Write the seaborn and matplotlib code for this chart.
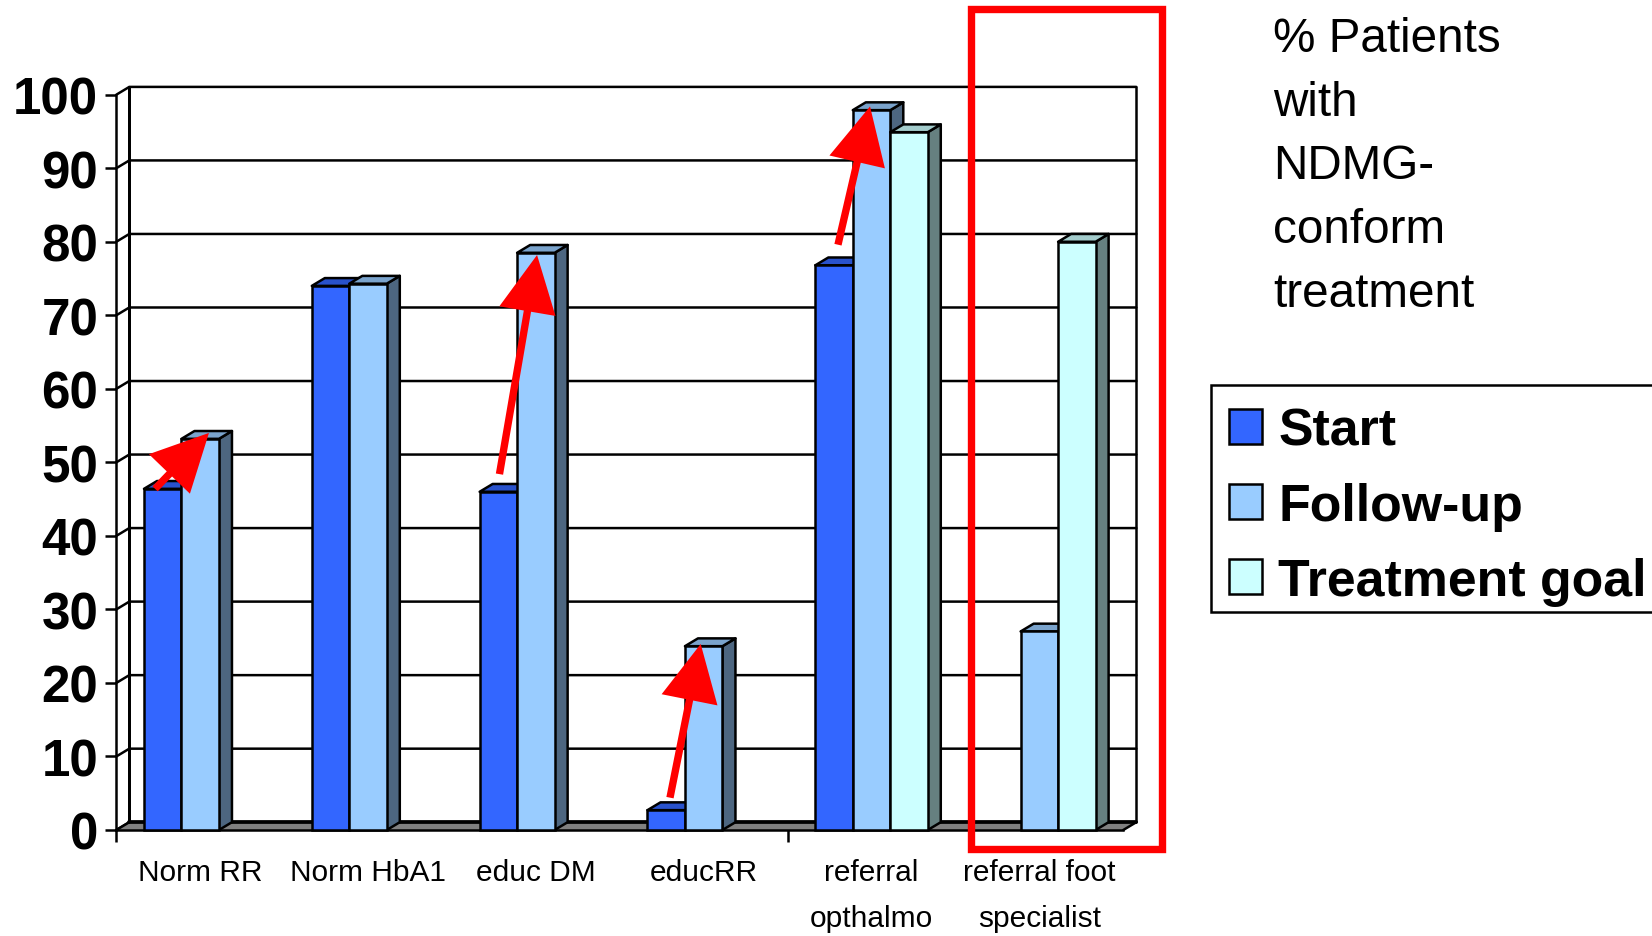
import numpy as np
import pandas as pd
import matplotlib
matplotlib.use("Agg")
import matplotlib.pyplot as plt
from matplotlib.patches import Polygon, Rectangle
from matplotlib.colors import to_rgb
import seaborn as sns

categories = ["Norm RR", "Norm HbA1", "educ DM", "educRR",
              "referral\nopthalmo", "referral foot\nspecialist"]
series = ["Start", "Follow-up", "Treatment goal"]
start = [46.4, 74.0, 46.0, 2.7, 76.8, np.nan]
follow_up = [53.2, 74.3, 78.5, 25.0, 97.9, 27.0]
goal = [np.nan, np.nan, np.nan, np.nan, 94.9, 80.0]
colors = ["#3366FF", "#99CCFF", "#CCFFFF"]
y_ticks = list(range(0, 101, 10))
note = "% Patients\nwith\nNDMG-\nconform\ntreatment"

# red trend arrows: (x_tail, y_tail, x_tip, y_tip) in chart units
arrow_tail_x = [-0.269, 1.783, 2.799, 3.80]
arrow_tail_y = [46.4, 48.4, 4.4, 79.6]
arrow_tip_x = [0.052, 2.007, 2.982, 3.991]
arrow_tip_y = [54.0, 78.2, 25.3, 98.4]

W, H = 1652, 937
sns.set_theme(style="white")
plt.rcParams["font.family"] = ["Liberation Sans", "DejaVu Sans"]

df = pd.DataFrame({
    "category": categories * 3,
    "series": sum([[s] * len(categories) for s in series], []),
    "value": start + follow_up + goal,
})

fig = plt.figure(figsize=(W / 100, H / 100), dpi=100, facecolor="white")
L, R, T, B = 116.3, 1123.3, 95.7, 831.0
ax = fig.add_axes([L / W, 1 - B / H, (R - L) / W, (B - T) / H])
ax.patch.set_alpha(0)

LW = 1.8
sns.barplot(data=df, x="category", y="value", hue="series",
            order=categories, hue_order=series, palette=colors,
            saturation=1, width=0.67, edgecolor="black", linewidth=LW,
            ax=ax)

x0, x1 = -0.5, 5.5
ax.set_xlim(x0, x1)
ax.set_ylim(0, 100)
dx = 13 / ((R - L) / 6)
dy = 7.8 / ((B - T) / 100)

# back wall, gridlines, floor
for v in y_ticks:
    ax.plot([x0, x0 + dx, x1 + dx], [v, v + dy, v + dy], color="black",
            lw=LW, clip_on=False, zorder=1, solid_joinstyle="miter")
ax.plot([x0 + dx, x0 + dx], [dy, 100 + dy], color="black", lw=LW * 1.2,
        clip_on=False, zorder=1)
ax.plot([x1 + dx, x1 + dx], [dy, 100 + dy], color="black", lw=LW,
        clip_on=False, zorder=1)
ax.add_patch(Polygon([(x0, 0), (x1, 0), (x1 + dx, dy), (x0 + dx, dy)],
                     closed=True, facecolor="#808080", edgecolor="none",
                     clip_on=False, zorder=1.5))
ax.plot([x0 + dx, x1 + dx], [dy, dy], color="black", lw=LW * 1.5,
        clip_on=False, zorder=1.6)
ax.plot([x0, x0 + dx], [0, dy], color="black", lw=LW, clip_on=False, zorder=1.6)
ax.plot([x1, x1 + dx], [0, dy], color="black", lw=LW, clip_on=False, zorder=1.6)


def shade(c, f):
    return tuple(np.array(to_rgb(c)) * f)


# bars with their depth faces, painted left to right
rgb_to_idx = {to_rgb(c): i for i, c in enumerate(colors)}
for p in list(ax.patches):
    if not isinstance(p, Rectangle):
        continue
    h = p.get_height()
    if not np.isfinite(h) or h <= 0:
        continue
    fc = p.get_facecolor()[:3]
    idx = rgb_to_idx[tuple(fc)]
    xa, xb = p.get_x(), p.get_x() + p.get_width()
    z = 3 + idx
    ax.add_patch(Polygon([(xb, 0), (xb + dx, dy), (xb + dx, h + dy), (xb, h)],
                         closed=True, facecolor=shade(fc, 0.5), edgecolor="black",
                         lw=LW, clip_on=False, zorder=z, joinstyle="round"))
    ax.add_patch(Polygon([(xa, h), (xa + dx, h + dy), (xb + dx, h + dy), (xb, h)],
                         closed=True, facecolor=shade(fc, 0.8), edgecolor="black",
                         lw=LW, clip_on=False, zorder=z, joinstyle="round"))
    p.set_zorder(z + 0.5)
    p.set_clip_on(False)

# axes furniture
for s in ["top", "right"]:
    ax.spines[s].set_visible(False)
for s in ["left", "bottom"]:
    ax.spines[s].set_color("black")
    ax.spines[s].set_linewidth(LW)
ax.set_yticks(y_ticks)
ax.set_yticklabels([str(v) for v in y_ticks], fontsize=36.8, fontweight="bold",
                   color="black")
ax.tick_params(axis="y", which="major", left=True, length=8, width=LW, pad=5,
               color="black")
ax.set_xticks(range(len(categories)))
ax.set_xticklabels(categories, fontsize=21.5, color="black", linespacing=1.83)
ax.tick_params(axis="x", which="major", bottom=False, length=0, pad=20)
ax.set_xticks([x0, 3.5], minor=True)
ax.tick_params(axis="x", which="minor", bottom=True, length=8.5, width=LW,
               color="black")
ax.set_xlabel("")
ax.set_ylabel("")

# trend arrows
for xt, yt, xh, yh in zip(arrow_tail_x, arrow_tail_y, arrow_tip_x, arrow_tip_y):
    ann = ax.annotate("", xy=(xh, yh), xytext=(xt, yt), annotation_clip=False,
                      arrowprops=dict(facecolor="#FF0000", edgecolor="none",
                                      width=5.3, headwidth=41, headlength=41,
                                      shrink=0, linewidth=0))
    ann.set_zorder(8)

# highlight frame
fig.add_artist(Rectangle((971.3 / W, 1 - 850.3 / H), (1162 - 971.3) / W,
                         (850.3 - 9.7) / H, transform=fig.transFigure,
                         fill=False, edgecolor="#FF0000", lw=5.3,
                         joinstyle="miter", zorder=20))

# side note
fig.text(1273 / W, 1 - 17 / H, note, fontsize=34.3, color="black", ha="left",
         va="top", linespacing=1.535)

# legend box (runs off the right edge of the picture)
fig.add_artist(Rectangle((1211 / W, 1 - 612.7 / H), 600 / W, 227 / H,
                         transform=fig.transFigure, facecolor="white",
                         edgecolor="black", lw=LW, zorder=14))

# legend
handles, labels = ax.get_legend_handles_labels()
for hd in handles:
    hd.set_linewidth(LW)
leg = ax.legend(handles, labels, loc="upper left",
                bbox_to_anchor=(1210 / W, 1 - 389 / H),
                bbox_transform=fig.transFigure, borderaxespad=0,
                prop=dict(family="Liberation Sans", weight="bold", size=37.4),
                handlelength=0.64, handleheight=0.64, handletextpad=0.31,
                labelspacing=0.5, borderpad=0.36, frameon=False)
leg.set_zorder(15)
leg.remove()
fig.add_artist(leg)
for t in leg.get_texts():
    t.set_color("black")

fig.savefig("out.png", dpi=100, facecolor="white")
